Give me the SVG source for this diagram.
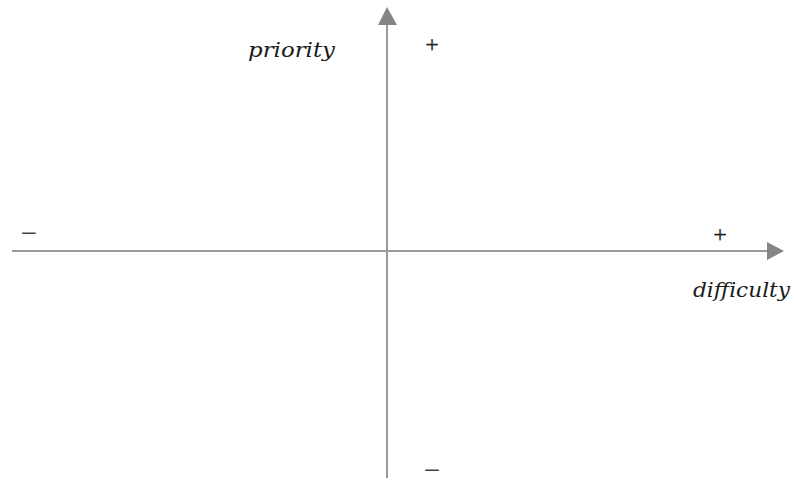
<svg xmlns="http://www.w3.org/2000/svg" width="794" height="481" viewBox="0 0 794 481">
<style>
.ax{stroke:#9a9a9a;stroke-width:2;fill:none}
.ah{fill:#858585}
.lbl{font-family:"DejaVu Serif","Liberation Serif",serif;font-style:italic;font-size:20px;fill:#1a1a1a}
.sg{font-family:"Liberation Serif",serif;font-size:24px;fill:#222;text-anchor:middle;stroke:#222;stroke-width:0.3}
</style>
<rect width="794" height="481" fill="#fff"/>
<g id="connectors">
<line class="ax" x1="12" y1="251" x2="769" y2="251"/>
<polygon class="ah" points="784,251 767,242 767,260"/>
<line class="ax" x1="387" y1="478" x2="387" y2="22"/>
<polygon class="ah" points="387,7 378,25 397,25"/>
</g>
<g id="labels">
<text class="lbl" x="248" y="57" textLength="87" lengthAdjust="spacingAndGlyphs">priority</text>
<text class="lbl" x="693" y="297" textLength="97" lengthAdjust="spacingAndGlyphs">difficulty</text>
<text class="sg" x="432" y="52">+</text>
<text class="sg" x="720" y="242">+</text>
<text class="sg" x="29" y="241" textLength="16" lengthAdjust="spacingAndGlyphs">−</text>
<text class="sg" x="432" y="476" style="font-size:18px" textLength="16" lengthAdjust="spacingAndGlyphs">−</text>
</g>
</svg>
